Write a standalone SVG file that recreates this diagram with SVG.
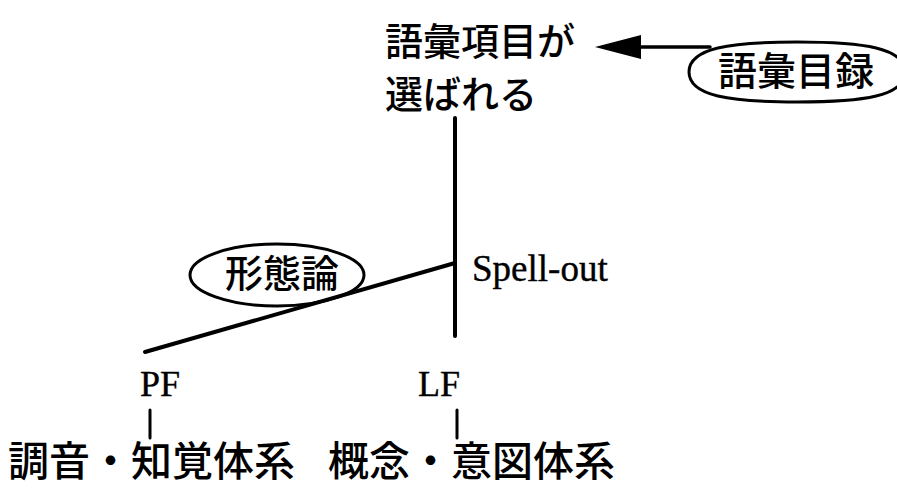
<svg xmlns="http://www.w3.org/2000/svg" width="897" height="488" viewBox="0 0 897 488">
<defs>
<style>
.jp{font-family:"Noto Sans CJK JP","Noto Sans CJK SC",sans-serif;fill:#000;font-weight:500}
.lat{font-family:"Liberation Serif",serif;fill:#000;stroke:#000;stroke-width:0.4}
.ln{stroke:#000;stroke-width:4;fill:none;stroke-linecap:round}
.oval{stroke:#000;stroke-width:3;fill:#fff}
</style>
</defs>
<rect width="897" height="488" fill="#fff"/>
<g id="connectors">
<line class="ln" x1="455" y1="118" x2="455" y2="336"/>
<line class="ln" x1="455" y1="263" x2="145" y2="352"/>
<line class="ln" x1="150" y1="410" x2="150" y2="438" style="stroke-width:3"/>
<line class="ln" x1="457" y1="410" x2="457" y2="438" style="stroke-width:3"/>
<line class="ln" x1="710" y1="47" x2="636" y2="47" style="stroke-width:3.5"/>
<path d="M595,47 L641,35 L641,59 Z" fill="#000"/>
</g>
<g id="lexical-items">
<text class="jp" x="385" y="55" font-size="38">語彙項目が</text>
<text class="jp" x="385" y="108" font-size="38">選ばれる</text>
</g>
<g id="lexicon">
<path class="oval" d="M689,72 C689,48 730,42 797,42 C864,42 905,48 905,72 C905,96 864,102 797,102 C730,102 689,96 689,72 Z"/>
<text class="jp" x="718" y="85" font-size="39">語彙目録</text>
</g>
<g id="spell-out">
<text class="lat" x="472" y="281" font-size="37">Spell-out</text>
</g>
<g id="morphology">
<ellipse cx="277" cy="275" rx="87" ry="31" style="stroke:#000;stroke-width:3;fill:none"/>
<text class="jp" x="225" y="287" font-size="38">形態論</text>
</g>
<g id="pf">
<text class="lat" x="140" y="396" font-size="36">PF</text>
</g>
<g id="lf">
<text class="lat" x="418" y="396" font-size="36">LF</text>
</g>
<g id="articulatory">
<text class="jp" x="8" y="476" font-size="41">調音・知覚体系</text>
</g>
<g id="conceptual">
<text class="jp" x="328" y="476" font-size="41">概念・意図体系</text>
</g>
</svg>
